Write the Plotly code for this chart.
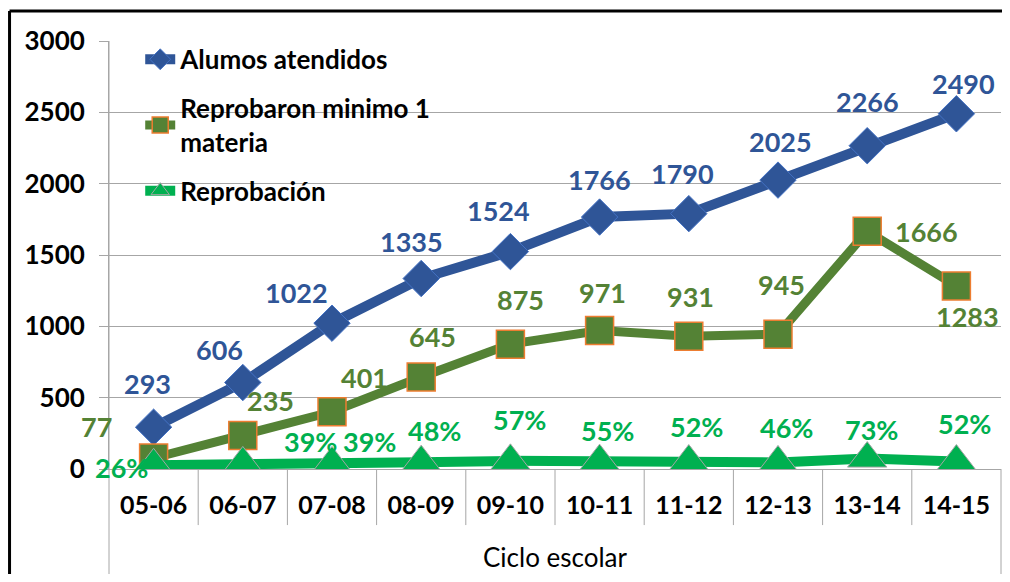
import plotly.graph_objects as go

# Data
ciclos = ["05-06", "06-07", "07-08", "08-09", "09-10",
          "10-11", "11-12", "12-13", "13-14", "14-15"]
alumnos = [293, 606, 1022, 1335, 1524, 1766, 1790, 2025, 2266, 2490]
reprobaron = [77, 235, 401, 645, 875, 971, 931, 945, 1666, 1283]
reprobacion_pct = [26, 39, 39, 48, 57, 55, 52, 46, 73, 52]

FONT = "Lato"
BLUE = "#2F5597"
OLIVE = "#548235"
GREEN = "#00B050"
GRID = "#A6A6A6"

# label offsets in px (x, y) relative to each point
blue_shift = [(-6, 44), (-23, 33), (-36, 31), (-10, 37), (-12, 41),
              (0, 38), (-6, 40), (2, 39), (0, 44), (7, 30)]
olive_shift = [(-57, 32), (28, 35), (32, 34), (11, 40), (10, 45),
               (3, 38), (2, 40), (3, 50), (59, 0), (11, -31)]
green_shift = [(-32, -2), (68, 22), (37, 22), (13, 32), (9, 41),
               (8, 31), (8, 35), (8, 35), (4, 29), (8, 38)]

fig = go.Figure()

fig.add_trace(go.Scatter(
    x=ciclos, y=alumnos, name="Alumos atendidos",
    mode="lines+markers", legendgroup="a",
    line=dict(color=BLUE, width=10),
    marker=dict(symbol="diamond", size=28, color=BLUE,
                line=dict(color="#4472C4", width=1)),
))
fig.add_trace(go.Scatter(
    x=ciclos, y=reprobaron, name="Reprobaron minimo 1<br>materia",
    mode="lines+markers", legendgroup="b",
    line=dict(color=OLIVE, width=9),
    marker=dict(symbol="square", size=28, color=OLIVE,
                line=dict(color="#ED7D31", width=1.5)),
))
fig.add_trace(go.Scatter(
    x=ciclos, y=reprobacion_pct, name="Reprobación",
    mode="lines+markers", legendgroup="c",
    line=dict(color=GREEN, width=10),
    marker=dict(symbol="triangle-up", size=34, color=GREEN,
                line=dict(color="#A5A5A5", width=1)),
))

# data labels
annotations = []
series = [
    (alumnos, blue_shift, BLUE, "{}"),
    (reprobaron, olive_shift, OLIVE, "{}"),
    (reprobacion_pct, green_shift, GREEN, "{}%"),
]
for values, shifts, color, fmt in series:
    for cat, v, (dx, dy) in zip(ciclos, values, shifts):
        annotations.append(dict(
            x=cat, y=v, xref="x", yref="y", text=fmt.format(v),
            showarrow=False, xshift=dx, yshift=dy,
            font=dict(family=FONT, size=27, color=color, weight="bold"),
        ))

annotations.append(dict(
    x=0.5, y=-0.205, xref="paper", yref="paper", text="Ciclo escolar",
    showarrow=False, xanchor="center", yanchor="middle",
    font=dict(family=FONT, size=26, color="#000000"),
))

# table-like category separators and frame
shapes = []
for k in range(len(ciclos) - 1):
    shapes.append(dict(type="line", xref="x", yref="paper",
                       x0=k + 0.5, x1=k + 0.5, y0=0, y1=-0.131,
                       line=dict(color=GRID, width=1)))
shapes.append(dict(type="line", xref="paper", yref="paper",
                   x0=0, x1=0, y0=-0.3, y1=1, line=dict(color=GRID, width=1)))
shapes.append(dict(type="line", xref="paper", yref="paper",
                   x0=1, x1=1, y0=-0.3, y1=0, line=dict(color=GRID, width=1)))
# outer black frame (left and top edges visible)
shapes.append(dict(type="line", xref="paper", yref="paper",
                   x0=-0.1115, x1=-0.1115, y0=-0.3, y1=1.070,
                   line=dict(color="#000000", width=3)))
shapes.append(dict(type="line", xref="paper", yref="paper",
                   x0=-0.1115, x1=1.02, y0=1.070, y1=1.070,
                   line=dict(color="#000000", width=3)))

# page body adds an 8px margin, so the figure is sized to fit the window
fig.update_layout(
    width=994, height=566,
    margin=dict(l=101, r=1, t=33, b=105),
    paper_bgcolor="white", plot_bgcolor="white",
    font=dict(family=FONT, color="#000000"),
    showlegend=True,
    legend=dict(x=0.035, y=1.012, xanchor="left", yanchor="top",
                bgcolor="rgba(0,0,0,0)", tracegroupgap=12,
                traceorder="grouped",
                font=dict(family=FONT, size=26, color="#000000", weight="bold")),
    annotations=annotations,
    shapes=shapes,
)
fig.update_xaxes(
    type="category", range=[-0.5, len(ciclos) - 0.5],
    showgrid=False, showline=True, linecolor=GRID,
    ticks="", ticklabelstandoff=14,
    tickfont=dict(family=FONT, size=25, color="#000000", weight="bold"),
)
fig.update_yaxes(
    range=[0, 3000], dtick=500, showgrid=True, gridcolor=GRID,
    zeroline=False, showline=True, linecolor=GRID,
    ticks="outside", ticklen=9, tickcolor=GRID, ticklabelstandoff=9,
    tickfont=dict(family=FONT, size=26, color="#000000", weight="bold"),
)

fig.write_html("out.html")
